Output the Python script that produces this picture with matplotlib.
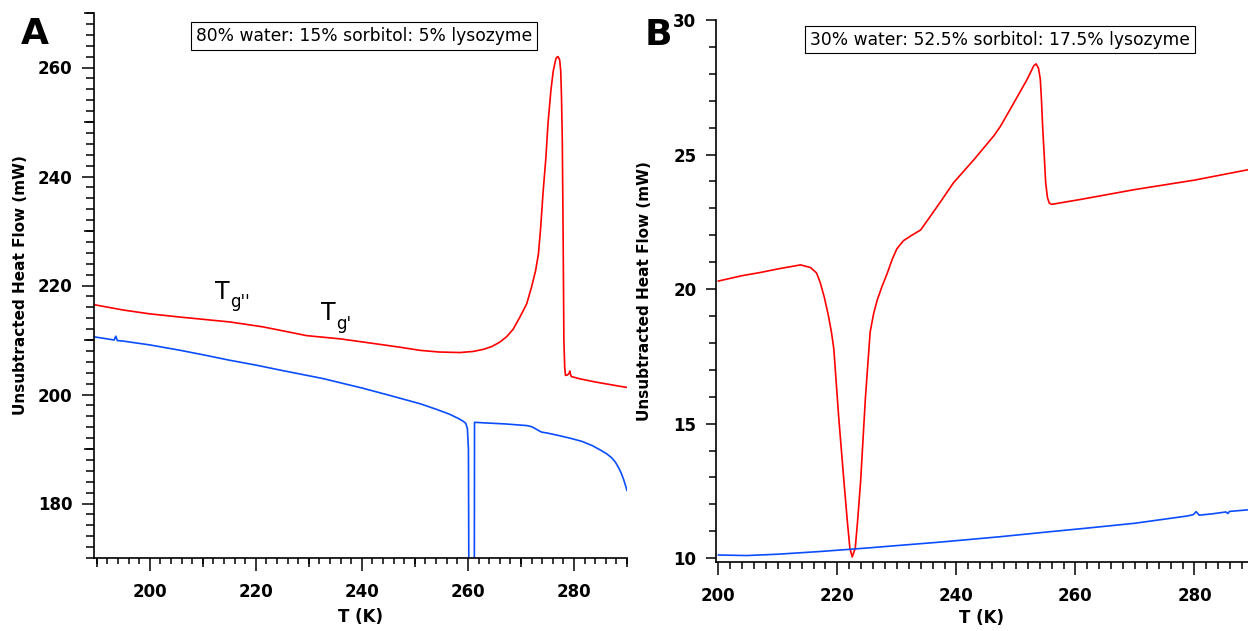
import matplotlib
matplotlib.use("Agg")
import matplotlib.pyplot as plt
from matplotlib.ticker import MultipleLocator

# ---------------- data ----------------
# Panel A: 80% water : 15% sorbitol : 5% lysozyme
a_red_T = [189.4, 195, 200, 205.8, 210, 215.2, 221.4, 225, 229.6, 232.8, 236, 243.4,
           247, 251.0, 254.5, 258.5, 261, 263, 264.5, 266.0, 267.3, 268.55, 269.8,
           271.07, 272.0, 272.77, 273.3, 273.71, 274.2, 274.71, 275.1, 275.65,
           276.1, 276.59, 276.8, 277.0, 277.3, 277.5, 277.65, 277.8, 277.95, 278.1,
           278.25, 278.4, 278.8, 279.1, 279.2, 279.35, 279.5, 281, 284, 288.7, 290]
a_red_v = [216.5, 215.5, 214.8, 214.2, 213.8, 213.3, 212.4, 211.7, 210.8, 210.5,
           210.2, 209.2, 208.7, 208.1, 207.8, 207.7, 207.9, 208.3, 208.8, 209.6,
           210.6, 212.0, 214.2, 216.6, 219.7, 222.75, 225.8, 230.5, 237.4, 243.5,
           249.7, 255.8, 259.4, 261.6, 261.9, 262.0, 261.4, 259.4, 254.5, 246.6,
           230.0, 209.9, 205.0, 203.5, 203.6, 203.9, 204.3, 203.7, 203.3, 202.9,
           202.3, 201.5, 201.3]

a_blue_T = [189.4, 193.3, 193.6, 193.9, 195, 200, 205.8, 210, 215, 220, 225, 232.8,
            237, 240, 245, 251.0, 254, 256.5, 258.2, 259.1, 259.6, 259.9, 260.1,
            260.2, 261.2, 261.25, 263, 267, 271.1, 272.0, 272.6, 273.3, 273.9,
            275.1, 277, 279.2, 281.5, 283.5, 285, 286.2, 287.1, 287.8, 288.4,
            288.9, 289.4, 290]
a_blue_v = [210.6, 210.0, 210.7, 209.9, 209.8, 209.1, 208.1, 207.3, 206.3, 205.4,
            204.4, 202.9, 201.9, 201.2, 199.9, 198.3, 197.3, 196.4, 195.6, 195.1,
            194.7, 193.8, 190.0, 160.0, 160.0, 194.9, 194.8, 194.6, 194.3, 194.1,
            193.8, 193.4, 193.1, 192.9, 192.5, 192.0, 191.4, 190.6, 189.8, 189.1,
            188.4, 187.6, 186.6, 185.6, 184.3, 182.4]

# Panel B: 30% water : 52.5% sorbitol : 17.5% lysozyme
b_red_T = [200, 204, 207.1, 210, 213.8, 215.5, 216.5, 217.1, 217.8, 218.5, 219.0,
           219.4, 220.2, 221.1, 221.7, 222.1, 222.5, 223.0, 223.4, 223.9, 224.7,
           225.5, 226.1, 226.7, 227.5, 228.4, 229.2, 230.0, 231.1, 232.5, 234.0,
           235.6, 237.5, 239.5, 242.9, 246.3, 247.4, 249.6, 251.9, 253.0, 253.4,
           253.8, 254.1, 254.3, 254.5, 254.8, 255.0, 255.3, 255.6, 256.0, 260.8,
           270, 280, 289.1]
b_red_v = [20.3, 20.5, 20.62, 20.75, 20.9, 20.8, 20.6, 20.25, 19.7, 19.0, 18.4,
           17.78, 15.3, 12.85, 11.3, 10.37, 10.05, 10.37, 11.4, 12.85, 15.93,
           18.4, 19.1, 19.6, 20.1, 20.6, 21.1, 21.5, 21.8, 22.0, 22.2,
           22.7, 23.3, 23.95, 24.8, 25.7, 26.05, 26.9, 27.8, 28.3, 28.37,
           28.2, 27.8, 27.0, 26.0, 24.8, 23.95, 23.4, 23.2, 23.15, 23.33,
           23.7, 24.05, 24.44]

b_blue_T = [200, 204.8, 210, 217.1, 225, 230, 237.3, 247.4, 255, 262, 270, 278.8,
            279.8, 280.3, 280.8, 283, 285.3, 285.6, 285.9, 289.1]
b_blue_v = [10.12, 10.1, 10.15, 10.25, 10.38, 10.47, 10.6, 10.8, 10.97, 11.12,
            11.3, 11.57, 11.62, 11.73, 11.6, 11.65, 11.72, 11.66, 11.74, 11.8]

titles = ["80% water: 15% sorbitol: 5% lysozyme",
          "30% water: 52.5% sorbitol: 17.5% lysozyme"]
ylabel = "Unsubtracted Heat Flow (mW)"
xlabel = "T (K)"

RED = "#ff0000"
BLUE = "#0a4dff"

fig = plt.figure(figsize=(12.48, 6.31), dpi=100)
axA = fig.add_axes([93.5 / 1248, 73 / 631, 533.5 / 1248, 545 / 631])
axB = fig.add_axes([715.7 / 1248, 69 / 631, 532.3 / 1248, 542 / 631])

for ax in (axA, axB):
    for s in ("top", "right"):
        ax.spines[s].set_visible(False)
    for s in ("left", "bottom"):
        ax.spines[s].set_linewidth(1.2)
    ax.tick_params(which="both", direction="out", width=1.1, colors="black",
                   labelsize=12)
    ax.set_xlabel(xlabel, fontsize=12, fontweight="bold")
    ax.set_ylabel(ylabel, fontsize=11, fontweight="bold")

# Panel A
axA.plot(a_red_T, a_red_v, color=RED, lw=1.2)
axA.plot(a_blue_T, a_blue_v, color=BLUE, lw=1.2)
axA.set_xlim(189.4, 290)
axA.set_ylim(170, 270)
axA.set_xticks([200, 220, 240, 260, 280])
axA.xaxis.set_minor_locator(MultipleLocator(2))
axA.set_yticks([180, 200, 220, 240, 260])
axA.yaxis.set_minor_locator(MultipleLocator(2))
axA.tick_params(axis="x", which="major", length=9, pad=9)
axA.tick_params(axis="x", which="minor", length=4.5)
axA.tick_params(axis="y", which="major", length=9, pad=6)
axA.tick_params(axis="y", which="minor", length=6)
axA.yaxis.set_label_coords(-0.122, 0.5)
axA.xaxis.set_label_coords(0.5, -0.092)
# medium ticks every 10 units
secx = axA.secondary_xaxis("bottom")
secx.set_xticks([190, 210, 230, 250, 270, 290])
secx.tick_params(length=6.5, width=1.1, labelbottom=False)
secx.spines["bottom"].set_visible(False)
secy = axA.secondary_yaxis("left")
secy.set_yticks([190, 210, 230, 250, 270])
secy.tick_params(length=7.5, width=1.1, labelleft=False)
secy.spines["left"].set_visible(False)

axA.text(0.507, 0.958, titles[0], transform=axA.transAxes, ha="center",
         va="center", fontsize=12.3,
         bbox=dict(boxstyle="square,pad=0.28", fc="white", ec="black", lw=0.8))
# Tg annotations
axA.text(212.3, 217.6, "T", fontsize=17, ha="left", va="baseline")
axA.annotate("g''", xy=(212.3, 217.6), xytext=(11, -6), textcoords="offset points",
             fontsize=12, ha="left", va="baseline")
axA.text(232.3, 213.6, "T", fontsize=17, ha="left", va="baseline")
axA.annotate("g'", xy=(232.3, 213.6), xytext=(11, -6), textcoords="offset points",
             fontsize=12, ha="left", va="baseline")

# Panel B
axB.plot(b_red_T, b_red_v, color=RED, lw=1.2)
axB.plot(b_blue_T, b_blue_v, color=BLUE, lw=1.2)
axB.set_xlim(199.55, 289)
axB.set_ylim(9.86, 30)
axB.set_xticks([200, 220, 240, 260, 280])
axB.xaxis.set_minor_locator(MultipleLocator(2))
axB.set_yticks([10, 15, 20, 25, 30])
axB.yaxis.set_minor_locator(MultipleLocator(1))
axB.tick_params(axis="x", which="major", length=9, pad=9)
axB.tick_params(axis="x", which="minor", length=5)
axB.tick_params(axis="y", which="major", length=7, pad=7)
axB.tick_params(axis="y", which="minor", length=5)
axB.yaxis.set_label_coords(-0.12, 0.5)
axB.xaxis.set_label_coords(0.5, -0.087)
axB.text(0.534, 0.964, titles[1], transform=axB.transAxes, ha="center",
         va="center", fontsize=12.3,
         bbox=dict(boxstyle="square,pad=0.28", fc="white", ec="black", lw=0.8))

for ax in (axA, axB):
    for lab in ax.get_xticklabels() + ax.get_yticklabels():
        lab.set_fontweight("bold")

fig.text(35 / 1248, 1 - 34 / 631, "A", fontsize=26, fontweight="bold",
         ha="center", va="center")
fig.text(658 / 1248, 1 - 35 / 631, "B", fontsize=26, fontweight="bold",
         ha="center", va="center")

fig.savefig("out.png", dpi=100)
